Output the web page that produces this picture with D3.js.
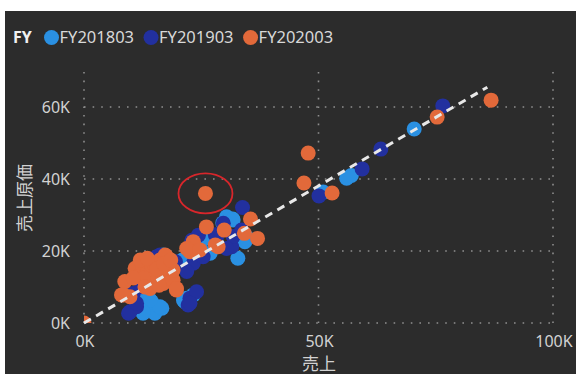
<!DOCTYPE html>
<html>
<head>
<meta charset="utf-8">
<script src="https://cdn.jsdelivr.net/npm/d3@7"></script>
<style>
  html, body { margin: 0; padding: 0; background: #fff; }
  svg { display: block; }
</style>
</head>
<body>
<svg id="chart" width="576" height="374"></svg>
<script>
// values in thousands (売上, 売上原価)
const fy201803 = [
  [12.6, 2.7], [13.4, 3.6], [15.1, 2.7], [16.6, 4.1], [14.4, 5.9], [12.6, 5.5],
  [16.2, 4.5], [13.4, 8.2], [21.5, 5.9], [21.9, 6.9], [11.5, 4.0], [19.0, 15.6],
  [16.9, 18.9], [24.7, 21.2], [26.9, 19.4], [29.6, 27.8], [30.4, 29.5], [31.7, 28.9],
  [32.8, 18.0], [34.7, 23.8], [21.0, 17.5], [51.0, 36.4], [56.0, 40.2], [57.0, 41.0],
  [70.4, 53.9], [14.0, 10.0], [18.5, 12.5], [23.3, 7.8], [21.2, 6.4], [14.1, 6.4],
  [12.6, 3.1], [26.9, 23.5], [34.3, 22.6], [31.8, 28.6]
];
const fy201903 = [
  [9.5, 2.7], [11.2, 4.5], [10.5, 8.2], [12.3, 10.1], [22.2, 5.0], [22.6, 6.9],
  [24.0, 8.7], [23.3, 16.6], [25.4, 18.4], [21.9, 14.3], [16.2, 18.9], [15.5, 18.4],
  [23.0, 23.0], [31.5, 21.2], [31.8, 24.0], [33.6, 25.8], [33.8, 32.1], [28.0, 24.5],
  [19.5, 17.0], [50.1, 35.3], [59.3, 42.8], [63.3, 48.3], [76.5, 60.3], [13.5, 12.5],
  [18.0, 14.0], [18.3, 17.0], [22.6, 5.5], [9.8, 3.1], [11.2, 5.5], [29.7, 27.7],
  [30.4, 20.7], [24.4, 24.4], [28.3, 24.0]
];
const fy202003 = [
  [0, 0], [8.0, 7.8], [9.8, 7.3], [8.7, 11.5], [11.2, 14.7], [10.9, 15.2],
  [11.9, 13.3], [12.6, 15.6], [13.4, 13.8], [14.4, 16.1], [14.8, 12.4], [14.8, 11.0],
  [16.2, 17.5], [16.2, 13.3], [16.9, 11.0], [17.5, 18.6], [17.6, 14.7], [17.6, 12.9],
  [19.0, 11.9], [19.7, 9.2], [22.6, 19.8], [23.3, 22.1], [24.4, 20.3], [25.9, 36.0],
  [26.1, 26.7], [28.6, 21.2], [29.9, 25.8], [34.2, 24.9], [35.5, 28.9], [37.0, 23.5],
  [46.9, 38.9], [47.8, 47.2], [52.9, 36.1], [75.3, 57.2], [86.8, 61.9],
  [17.3, 18.9], [14.8, 16.6], [12.6, 12.4], [15.8, 12.4], [19.0, 14.7], [8.4, 7.8],
  [14.1, 9.6], [19.7, 9.6], [28.0, 21.7], [12.0, 17.5], [13.5, 18.0], [15.5, 15.0],
  [17.0, 16.5], [18.5, 17.5], [10.5, 12.5], [13.0, 10.0], [16.0, 10.5], [23.3, 22.6],
  [21.9, 20.7], [24.7, 20.3]
];
const seriesNames = ['FY201803', 'FY201903', 'FY202003'];
const seriesColors = ['#2a90e2', '#22309f', '#e2693a'];
const xTicks = [0, 50, 100];
const yTicks = [0, 20, 40, 60];
const trendX = [0, 86];
const trendY = [0, 65.5];
const outlier = [25.9, 36.0];

const svg = d3.select('#chart');
const font = '"Noto Sans", "Open Sans", sans-serif';
const cjk = '"Noto Sans CJK JP", "Noto Sans", sans-serif';

// dark panel
svg.append('rect')
  .attr('x', 5).attr('y', 11)
  .attr('width', 571).attr('height', 363)
  .attr('fill', '#2c2c2c');

const x = d3.scaleLinear().domain([0, 100]).range([84, 553]);
const y = d3.scaleLinear().domain([0, 70]).range([323, 71]);

// Gridlines (dotted)
const grid = svg.append('g')
  .attr('stroke', '#8e8e8e')
  .attr('stroke-width', 1.6)
  .attr('stroke-dasharray', '1.6,7');
grid.selectAll('line.h')
  .data(yTicks)
  .join('line')
  .attr('x1', x(0)).attr('x2', x(100))
  .attr('y1', d => y(d)).attr('y2', d => y(d));
grid.selectAll('line.v')
  .data(xTicks)
  .join('line')
  .attr('class', 'v')
  .attr('x1', d => x(d)).attr('x2', d => x(d))
  .attr('y1', y(0)).attr('y2', y(70));

// Tick labels
svg.append('g')
  .selectAll('text')
  .data(yTicks)
  .join('text')
  .attr('x', 70)
  .attr('y', d => y(d))
  .attr('dy', '0.36em')
  .attr('text-anchor', 'end')
  .attr('font-family', font)
  .attr('font-size', 16)
  .attr('fill', '#d2d2d2')
  .text(d => d + 'K');

svg.append('g')
  .selectAll('text')
  .data(xTicks)
  .join('text')
  .attr('x', d => x(d) + 1)
  .attr('y', 347)
  .attr('text-anchor', 'middle')
  .attr('font-family', font)
  .attr('font-size', 16)
  .attr('fill', '#d2d2d2')
  .text(d => d + 'K');

// Axis titles
svg.append('text')
  .attr('x', 319).attr('y', 370)
  .attr('text-anchor', 'middle')
  .attr('font-family', cjk)
  .attr('font-size', 17)
  .attr('fill', '#d2d2d2')
  .text('売上');

svg.append('text')
  .attr('transform', 'translate(31,198) rotate(-90)')
  .attr('text-anchor', 'middle')
  .attr('font-family', cjk)
  .attr('font-size', 17)
  .attr('fill', '#d2d2d2')
  .text('売上原価');

// Points
svg.append('clipPath').attr('id', 'plot-clip')
  .append('rect')
  .attr('x', x(0)).attr('y', y(70))
  .attr('width', x(100) - x(0)).attr('height', y(0) - y(70));

const pts = svg.append('g').attr('clip-path', 'url(#plot-clip)');
[fy201803, fy201903, fy202003].forEach((s, i) => {
  pts.append('g')
    .selectAll('circle')
    .data(s)
    .join('circle')
    .attr('cx', d => x(d[0]))
    .attr('cy', d => y(d[1]))
    .attr('r', 7.5)
    .attr('fill', seriesColors[i]);
});

// Trend line
svg.append('line')
  .attr('x1', x(trendX[0])).attr('y1', y(trendY[0]))
  .attr('x2', x(trendX[1])).attr('y2', y(trendY[1]))
  .attr('stroke', '#e8e8e8')
  .attr('stroke-width', 3)
  .attr('stroke-dasharray', '8,6');

// Annotation ellipse
svg.append('ellipse')
  .attr('cx', x(outlier[0])).attr('cy', y(outlier[1]))
  .attr('rx', 27).attr('ry', 20)
  .attr('fill', 'none')
  .attr('stroke', '#d8262b')
  .attr('stroke-width', 1.8);

// Legend
const legend = svg.append('g');
legend.append('text')
  .attr('x', 13).attr('y', 43)
  .attr('font-family', font)
  .attr('font-size', 16)
  .attr('font-weight', 'bold')
  .attr('fill', '#f0f0f0')
  .text('FY');

let lx = 51.5;
seriesNames.forEach((name, i) => {
  legend.append('circle')
    .attr('cx', lx).attr('cy', 37.5)
    .attr('r', 7.5)
    .attr('fill', seriesColors[i]);
  const t = legend.append('text')
    .attr('x', lx + 8).attr('y', 43)
    .attr('font-family', font)
    .attr('font-size', 16.5)
    .attr('fill', '#d8d8d8')
    .text(name);
  lx += 8 + t.node().getComputedTextLength() + 17;
});
</script>
</body>
</html>
